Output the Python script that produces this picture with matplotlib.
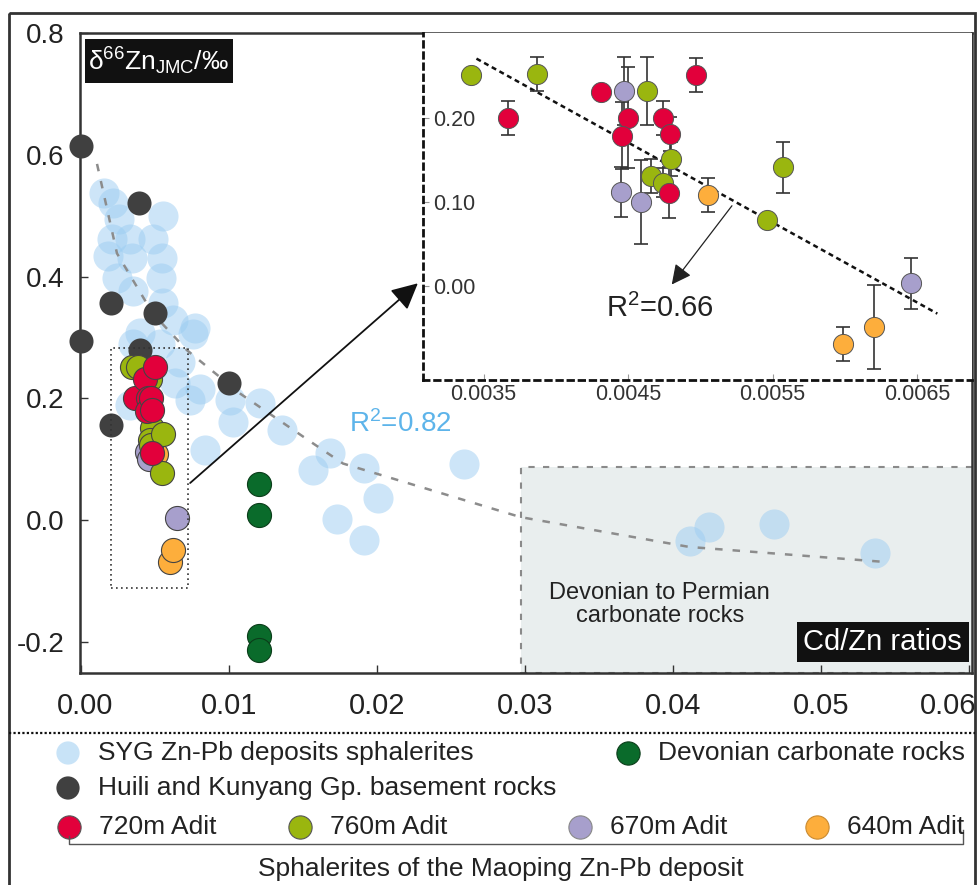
import numpy as np
import matplotlib
matplotlib.use("Agg")
import matplotlib.pyplot as plt
import matplotlib.transforms as mtrans
from matplotlib.patches import Rectangle, FancyArrowPatch

plt.rcParams['font.family'] = ['Liberation Sans', 'DejaVu Sans']
plt.rcParams['mathtext.fontset'] = 'custom'
plt.rcParams['mathtext.rm'] = 'Liberation Sans'
plt.rcParams['mathtext.it'] = 'Liberation Sans'

# ---- data ----
# SYG Zn-Pb deposit sphalerites (Cd/Zn, d66Zn)
syg_x = [0.00155, 0.00216, 0.00554, 0.00257, 0.00209, 0.00331, 0.00486, 0.00182, 0.00345,
         0.00547, 0.00243, 0.00541, 0.00351, 0.00554, 0.00622, 0.00770, 0.00757, 0.00351,
         0.00534, 0.00669, 0.00635, 0.00804, 0.00736, 0.01007, 0.01209, 0.01027, 0.01358,
         0.00838, 0.01682, 0.01568, 0.01912, 0.02007, 0.01730, 0.01912, 0.02588, 0.04115,
         0.04243, 0.04682, 0.05365, 0.00331, 0.00400]
syg_y = [0.538, 0.521, 0.500, 0.495, 0.462, 0.462, 0.462, 0.434, 0.430,
         0.431, 0.398, 0.397, 0.377, 0.356, 0.328, 0.315, 0.305, 0.290,
         0.290, 0.259, 0.225, 0.216, 0.197, 0.197, 0.192, 0.161, 0.148,
         0.115, 0.111, 0.082, 0.085, 0.036, 0.002, -0.033, 0.092, -0.034,
         -0.011, -0.007, -0.054, 0.189, 0.307]
# SYG trend (log fit, R2=0.82)
trend_x = [0.00108, 0.00243, 0.00486, 0.00716, 0.01074, 0.01568, 0.0177, 0.0297, 0.0411, 0.0545]
trend_y = [0.585, 0.438, 0.339, 0.279, 0.208, 0.126, 0.093, 0.005, -0.044, -0.069]

# Huili and Kunyang Gp. basement rocks
base_x = [0.0, 0.0039, 0.00203, 0.0050, 0.0, 0.0040, 0.0100, 0.00203]
base_y = [0.615, 0.521, 0.357, 0.341, 0.295, 0.279, 0.225, 0.156]

# Devonian carbonate rocks
dev_x = [0.012, 0.012, 0.012, 0.012]
dev_y = [0.060, 0.008, -0.191, -0.213]

# Maoping sphalerites by adit: x, y, 2SD
a720_x = [0.00367, 0.00431, 0.00450, 0.00446, 0.00474, 0.00479, 0.00478, 0.00497]
a720_y = [0.200, 0.231, 0.200, 0.179, 0.200, 0.181, 0.111, 0.251]
a720_e = [0.020, 0.000, 0.060, 0.040, 0.020, 0.020, 0.030, 0.020]

a760_x = [0.00341, 0.00387, 0.00463, 0.00480, 0.00466, 0.00474, 0.00546, 0.00557]
a760_y = [0.251, 0.252, 0.232, 0.151, 0.131, 0.123, 0.078, 0.141]
a760_e = [0.000, 0.020, 0.040, 0.020, 0.020, 0.017, 0.000, 0.030]

a670_x = [0.00447, 0.00445, 0.00459, 0.00646]
a670_y = [0.232, 0.112, 0.100, 0.003]
a670_e = [0.040, 0.030, 0.050, 0.030]

a640_x = [0.00505, 0.00599, 0.00620]
a640_y = [0.108, -0.069, -0.049]
a640_e = [0.020, 0.020, 0.050]

# inset linear fit (R2=0.66), end points
inset_fit_x = [0.00345, 0.00664]
inset_fit_y = [0.2705, -0.033]

C_SYG, C_BASE, C_DEV = '#9ccdf2', '#404040', '#0a6b2b'
C720, C760, C670, C640 = '#e2003b', '#9ab60f', '#a79fcc', '#fdae3c'
# drawing order: reds end up on top as in the source figure
adits = [(a640_x, a640_y, a640_e, C640), (a670_x, a670_y, a670_e, C670),
         (a760_x, a760_y, a760_e, C760), (a720_x, a720_y, a720_e, C720)]

W, H = 979, 885
fig = plt.figure(figsize=(W/100, H/100), dpi=100)

def fbox(l, t, r, b):
    return [l/W, 1-b/H, (r-l)/W, (b-t)/H]

# pixel-coordinate layer for frame, labels and legend
lg = fig.add_axes([0, 0, 1, 1], zorder=-1)
lg.set_xlim(0, W); lg.set_ylim(H, 0); lg.axis('off')
PX = lg.transData

# ---- main axes ----
ax = fig.add_axes(fbox(80, 33, 972, 673))
ax.set_xlim(-0.00007, 0.0602)
ax.set_ylim(-0.251, 0.8)
for s in ax.spines.values():
    s.set_linewidth(1.8); s.set_color('#333333')
ax.set_xticks([0, 0.01, 0.02, 0.03, 0.04, 0.05, 0.06])
ax.set_xticklabels(['0.00', '0.01', '0.02', '0.03', '0.04', '0.05', '0.06'])
ax.set_yticks([-0.2, 0.0, 0.2, 0.4, 0.6, 0.8])
ax.set_yticklabels(['-0.2', '0.0', '0.2', '0.4', '0.6', '0.8'])
ax.tick_params(axis='both', direction='in', length=6, width=1, colors='#333333', labelsize=20,
               labelcolor='#222222')
ax.tick_params(axis='x', pad=14, labelsize=21)
ax.tick_params(axis='y', pad=11)
xl = ax.get_xticklabels()
xl[0].set_transform(xl[0].get_transform() + mtrans.ScaledTranslation(3/72, 0, fig.dpi_scale_trans))
xl[-1].set_transform(xl[-1].get_transform() + mtrans.ScaledTranslation(-15/72, 0, fig.dpi_scale_trans))

# carbonate field
ax.add_patch(Rectangle((0.0297, -0.251), 0.031, 0.339, facecolor='#e9eeee', edgecolor='#8a8a8a',
                       ls=(0, (3, 4)), lw=1.5, zorder=0))
ax.text(0.0391, -0.138, 'Devonian to Permian\ncarbonate rocks', ha='center', va='center',
        fontsize=17, color='#222222', linespacing=1.05)
ax.add_patch(Rectangle((797, 622), 172, 40, transform=PX, facecolor='#111111', edgecolor='none',
                       clip_on=False, zorder=7))
ax.text(803, 650, 'Cd/Zn ratios', transform=PX, ha='left', va='baseline', fontsize=21,
        color='white', zorder=8)

ax.scatter(syg_x, syg_y, s=470, color=C_SYG, alpha=0.5, lw=0, zorder=2)
ax.plot(trend_x, trend_y, ls=(0, (3, 4)), color='#8c8c8c', lw=1.8, zorder=3)
ax.text(0.0181, 0.145, r'R$^2$=0.82', color='#5db4ea', fontsize=20, zorder=5)
ax.scatter(base_x, base_y, s=300, color=C_BASE, lw=0, zorder=4, clip_on=False)
ax.scatter(dev_x, dev_y, s=300, color=C_DEV, edgecolor='#0b3d1a', lw=0.8, zorder=4)
for xs, ys, es, c in adits:
    ax.scatter(xs, ys, s=300, color=c, edgecolor='#444444', lw=0.8, zorder=5)

# dotted selection box and arrow to the inset
ax.add_patch(Rectangle((0.00203, -0.111), 0.0052, 0.394, fill=False, ls=(0, (1, 2)),
                       lw=1.2, edgecolor='#333333', zorder=6))
ax.add_patch(FancyArrowPatch((0.00723, 0.058), (0.0229, 0.392), arrowstyle='-|>',
                             mutation_scale=40, color='#111111', lw=1.3, zorder=6))

ax.add_patch(Rectangle((85, 39), 148, 44, transform=PX, facecolor='#111111', edgecolor='none',
                       clip_on=False, zorder=7))
ax.text(88, 70, r'δ$^{66}$Zn$_{\mathrm{JMC}}$/‰', transform=PX, fontsize=19, color='white',
        ha='left', va='baseline', zorder=8)

# ---- inset ----
axi = fig.add_axes(fbox(423, 33, 972, 380))
axi.set_xlim(0.00308, 0.00688)
axi.set_ylim(-0.112, 0.301)
axi.spines['top'].set_visible(False)
axi.spines['right'].set_visible(False)
for k in ('left', 'bottom'):
    axi.spines[k].set_linestyle((0, (2, 2)))
    axi.spines[k].set_linewidth(2)
    axi.spines[k].set_color('#111111')
axi.set_xticks([0.0035, 0.0045, 0.0055, 0.0065])
axi.set_xticklabels(['0.0035', '0.0045', '0.0055', '0.0065'])
axi.set_yticks([0.0, 0.1, 0.2])
axi.set_yticklabels(['0.00', '0.10', '0.20'])
axi.tick_params(axis='both', direction='in', length=4, width=0.8, colors='#999999',
                labelcolor='#333333', labelsize=15.5)
axi.tick_params(axis='y', pad=-7)
axi.tick_params(axis='x', pad=3)
for lbl in axi.get_yticklabels():
    lbl.set_horizontalalignment('left')

axi.plot(inset_fit_x, inset_fit_y, ls=(0, (2, 1.5)), color='#111111', lw=1.8, zorder=2)
for xs, ys, es, c in adits:
    axi.errorbar(xs, ys, yerr=es, fmt='none', ecolor='#333333', elinewidth=1.2, capsize=5,
                 capthick=1.2, zorder=3)
    axi.scatter(xs, ys, s=210, color=c, edgecolor='#555555', lw=0.7, zorder=4)
axi.add_patch(FancyArrowPatch((0.00523, 0.098), (0.00479, -0.001), arrowstyle='-|>',
                              mutation_scale=30, color='#222222', lw=0.9, zorder=5))
axi.text(0.00472, -0.027, r'R$^2$=0.66', fontsize=21, color='#222222', ha='center', va='center')

# ---- frame and legend ----
lg.add_patch(Rectangle((9, 13), 966, 900, fill=False, lw=2, edgecolor='#333333', clip_on=False))
lg.plot([9, 975], [733, 733], ls=(0, (1, 1)), color='#111111', lw=1.6)

rows = [(68, 753, C_SYG, 'SYG Zn-Pb deposits sphalerites', 0.55, 'none'),
        (628, 753, C_DEV, 'Devonian carbonate rocks', 1, '#0b3d1a'),
        (68, 788, C_BASE, 'Huili and Kunyang Gp. basement rocks', 1, 'none'),
        (69, 827, C720, '720m Adit', 1, '#555555'), (300, 827, C760, '760m Adit', 1, '#555555'),
        (580, 827, C670, '670m Adit', 1, '#888888'), (817, 827, C640, '640m Adit', 1, '#c98a30')]
for x, y, c, t, a, ec in rows:
    lg.scatter([x], [y], s=280, color=c, alpha=a, edgecolor=ec, lw=0.8)
    lg.text(x + 30, y, t, fontsize=19, color='#222222', va='center', ha='left')
lg.plot([69, 69, 963, 963], [836, 844, 844, 830], color='#555555', lw=1)
lg.text(501, 869, 'Sphalerites of the Maoping Zn-Pb deposit', fontsize=19,
        color='#222222', ha='center', va='center')

fig.savefig('out.png', dpi=100)
